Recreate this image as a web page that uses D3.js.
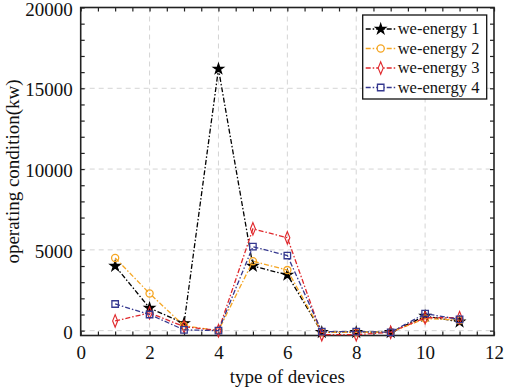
<!DOCTYPE html>
<html>
<head>
<meta charset="utf-8">
<script src="https://cdn.jsdelivr.net/npm/d3@7"></script>
<style>
  body { margin: 0; background: #fff; }
  svg { display: block; font-family: "Liberation Serif", "Times New Roman", serif; }
</style>
</head>
<body>
<svg id="chart" width="505" height="388"></svg>
<script>
// device types on the x axis
var devices = [1, 2, 3, 4, 5, 6, 7, 8, 9, 10, 11];

var energy1 = [4000, 1400, 450, 16200, 4000, 3450, -100, -100, -100, 900, 550];
var energy2 = [4500, 2300, 300, 0, 4300, 3750, -100, -100, -100, 750, 650];
var energy3 = [600, 1100, 250, 0, 6300, 5750, -250, -250, -100, 800, 800];
var energy4 = [1650, 1000, 50, 0, 5200, 4650, -60, -60, -100, 1050, 700];

var seriesNames = ["we-energy 1", "we-energy 2", "we-energy 3", "we-energy 4"];
var xTicks = [0, 2, 4, 6, 8, 10, 12];
var yTicks = [0, 5000, 10000, 15000, 20000];

var colors = ["#000000", "#f5a623", "#e0282c", "#35388f"];
var shapes = [d3.symbolStar, d3.symbolCircle, d3.symbolDiamond, d3.symbolSquare];

var svg = d3.select("#chart"),
    margin = { top: 7.5, right: 11, bottom: 52.5, left: 80.7 },
    width = +svg.attr("width") - margin.left - margin.right,
    height = +svg.attr("height") - margin.top - margin.bottom,
    g = svg.append("g").attr("transform", "translate(" + margin.left + "," + margin.top + ")");

var x = d3.scaleLinear().domain([0, 12]).range([0, width]);
var y = d3.scaleLinear().domain([-300, 20000]).range([height, 0]);

// dashed grid
g.append("g").selectAll("line")
    .data(xTicks.slice(1, -1))
    .enter().append("line")
    .attr("x1", x).attr("x2", x)
    .attr("y1", 0).attr("y2", height)
    .attr("stroke", "#d4d4d4").attr("stroke-dasharray", "5,4");
g.append("g").selectAll("line")
    .data(yTicks.slice(0, -1))
    .enter().append("line")
    .attr("x1", 0).attr("x2", width)
    .attr("y1", y).attr("y2", y)
    .attr("stroke", "#d4d4d4").attr("stroke-dasharray", "5,4");

// axes, ticks pointing inward, minor ticks every 0.5 / 1000
var xMinor = d3.range(0, 12.01, 0.5);
var yMinor = d3.range(0, 20001, 1000);

function styleAxis(sel) {
    sel.select(".domain").remove();
    sel.selectAll(".tick line").attr("stroke", "#222").attr("stroke-width", 1.2);
    sel.selectAll("text").attr("font-size", "19px").attr("fill", "#111")
        .attr("font-family", "Liberation Serif, serif");
}

g.append("g")
    .attr("transform", "translate(0," + height + ")")
    .call(d3.axisBottom(x).tickValues(xMinor).tickSize(-4).tickPadding(10)
        .tickFormat(function (d) { return xTicks.indexOf(d) >= 0 ? d : ""; }))
    .call(styleAxis);
g.append("g")
    .call(d3.axisTop(x).tickValues(xMinor).tickSize(-4).tickFormat(""))
    .call(styleAxis);
g.append("g")
    .call(d3.axisLeft(y).tickValues(yMinor).tickSize(-4).tickPadding(8)
        .tickFormat(function (d) { return yTicks.indexOf(d) >= 0 ? d : ""; }))
    .call(styleAxis)
    .selectAll("text").attr("dy", "0.4em");
g.append("g")
    .attr("transform", "translate(" + width + ",0)")
    .call(d3.axisRight(y).tickValues(yMinor).tickSize(-4).tickFormat(""))
    .call(styleAxis);

// frame
g.append("rect")
    .attr("width", width).attr("height", height)
    .attr("fill", "none").attr("stroke", "#222").attr("stroke-width", 1.6);

var data = [energy1, energy2, energy3, energy4].map(function (vals, i) {
    return {
        name: seriesNames[i],
        values: devices.map(function (d, j) { return { x: d, y: vals[j] }; })
    };
});

var line = d3.line()
    .x(function (d) { return x(d.x); })
    .y(function (d) { return y(d.y); });

var symbolSizes = [30, 40, 34, 42];

data.forEach(function (s, i) {
    var sg = g.append("g");
    sg.append("path")
        .datum(s.values)
        .attr("d", line)
        .attr("fill", "none")
        .attr("stroke", colors[i])
        .attr("stroke-width", 1.3)
        .attr("stroke-dasharray", "5,2,1.5,2");
    sg.selectAll("path.pt")
        .data(s.values)
        .enter().append("path")
        .attr("class", "pt")
        .attr("transform", function (d) { return "translate(" + x(d.x) + "," + y(d.y) + ")" + (i === 2 ? " scale(0.8,1.15)" : ""); })
        .attr("d", d3.symbol().type(shapes[i]).size(symbolSizes[i]))
        .attr("fill", i === 0 ? colors[i] : "none")
        .attr("stroke", colors[i])
        .attr("stroke-width", 1.3);
});

// legend
var legend = svg.append("g").attr("transform", "translate(362.7,15)");
legend.append("rect")
    .attr("width", 124).attr("height", 84)
    .attr("fill", "#fff").attr("stroke", "#111").attr("stroke-width", 1.3);

var rows = legend.selectAll("g.row")
    .data(seriesNames)
    .enter().append("g")
    .attr("class", "row")
    .attr("transform", function (d, i) { return "translate(0," + (14 + i * 19.5) + ")"; });

rows.append("line")
    .attr("x1", 3).attr("x2", 34)
    .attr("stroke", function (d, i) { return colors[i]; })
    .attr("stroke-width", 1.3)
    .attr("stroke-dasharray", "5,2,1.5,2");
rows.append("path")
    .attr("transform", function (d, i) { return "translate(18,0)" + (i === 2 ? " scale(0.8,1.15)" : ""); })
    .attr("d", function (d, i) { return d3.symbol().type(shapes[i]).size(symbolSizes[i])(); })
    .attr("fill", function (d, i) { return i === 0 ? colors[i] : "#fff"; })
    .attr("stroke", function (d, i) { return colors[i]; })
    .attr("stroke-width", 1.3);
rows.append("text")
    .attr("x", 35)
    .attr("dy", "0.32em")
    .attr("font-size", "16.5px")
    .attr("fill", "#111")
    .text(function (d) { return d; });

// axis titles
svg.append("text")
    .attr("x", margin.left + width / 2)
    .attr("y", 383)
    .attr("text-anchor", "middle")
    .attr("font-size", "19px")
    .attr("fill", "#111")
    .text("type of devices");

svg.append("text")
    .attr("transform", "translate(19," + (margin.top + height / 2) + ") rotate(-90)")
    .attr("text-anchor", "middle")
    .attr("font-size", "19px")
    .attr("fill", "#111")
    .text("operating condition(kw)");
</script>
</body>
</html>
